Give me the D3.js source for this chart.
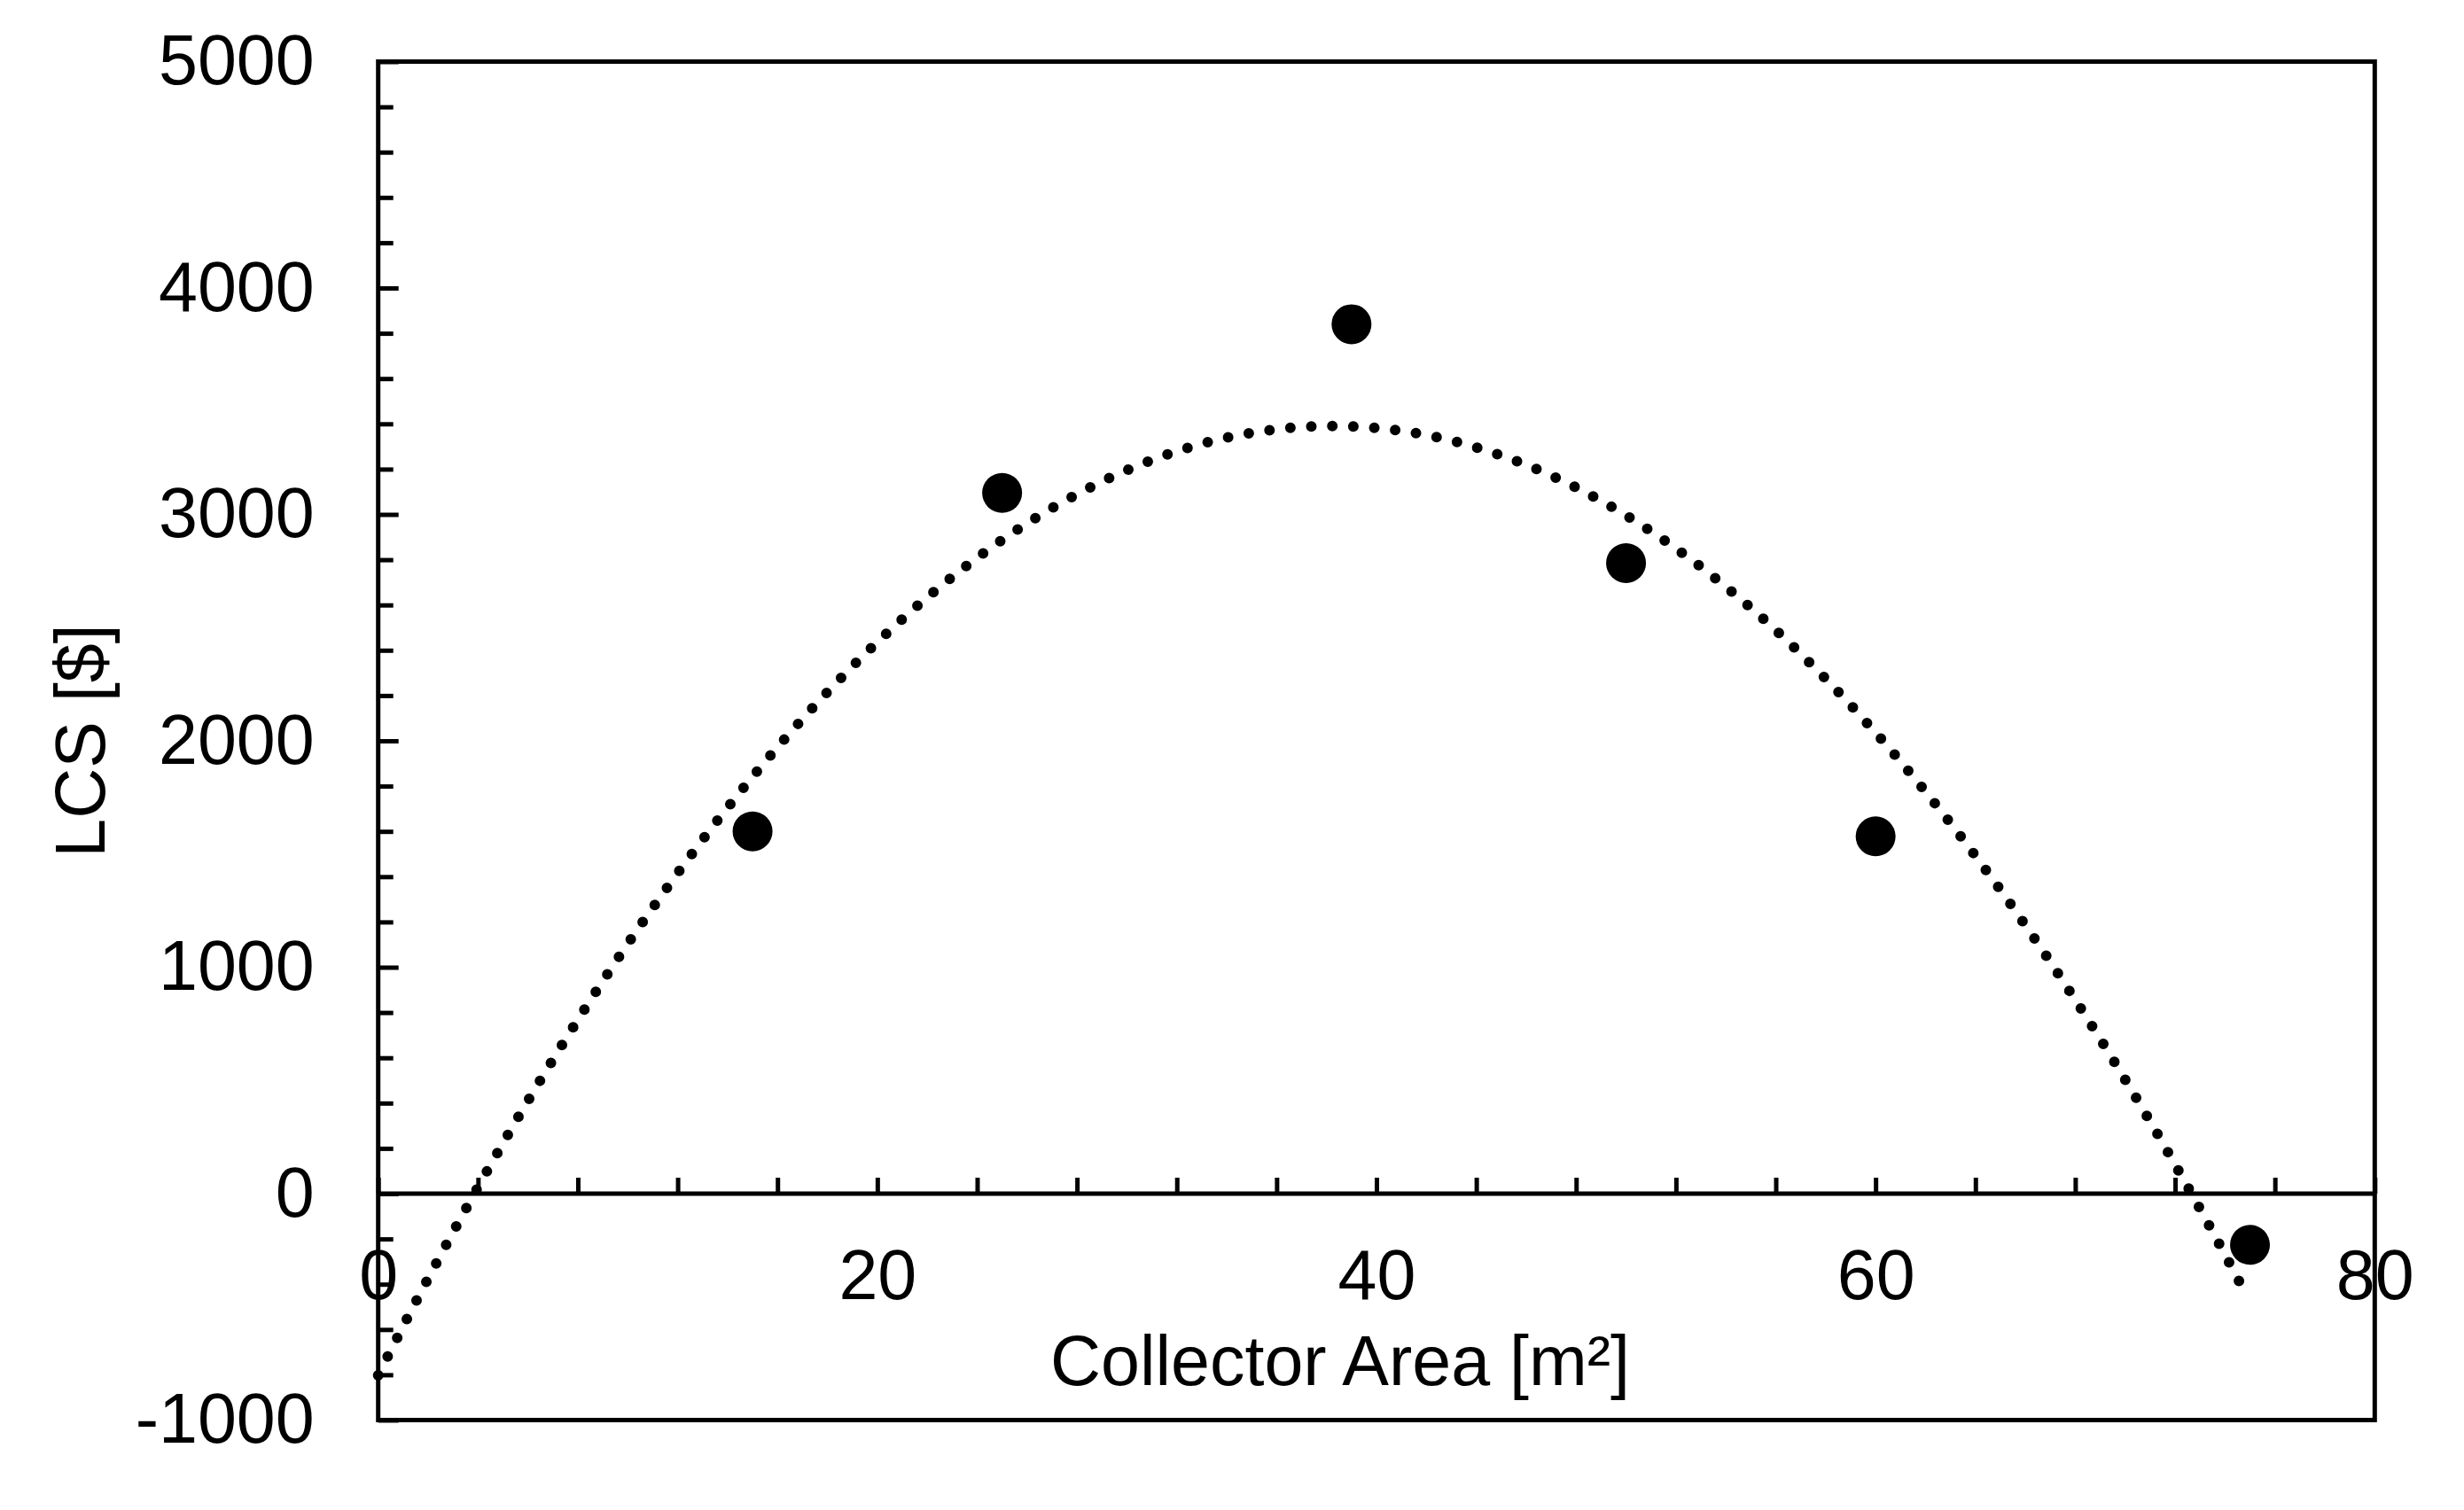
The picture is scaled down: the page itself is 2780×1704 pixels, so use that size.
<!DOCTYPE html>
<html>
<head>
<meta charset="utf-8">
<script src="https://cdn.jsdelivr.net/npm/d3@7"></script>
<style>
  html, body { margin: 0; padding: 0; background: #fff; }
  svg { display: block; }
  text { font-family: "Liberation Sans", Arial, sans-serif; fill: #000; }
</style>
</head>
<body>
<svg id="chart" width="2780" height="1704"></svg>
<script>
// ---- data ----
const areas = [15, 25, 39, 50, 60, 75];
const lcs = [1600, 3095, 3840, 2785, 1578, -226];
const xTickLabels = [0, 20, 40, 60, 80];
const yTickLabels = [-1000, 0, 1000, 2000, 3000, 4000, 5000];
const xTitle = "Collector Area [m²]";
const yTitle = "LCS [$]";
const trendRange = [0, 74.8];

// ---- layout ----
const L = 426.7, R = 2679.3, T = 69.5, B = 1602.5;
const FS = 79;

const svg = d3.select("#chart");
const x = d3.scaleLinear().domain([0, 80]).range([L, R]);
const y = d3.scaleLinear().domain([-1000, 5000]).range([B, T]);
const plainFmt = d => String(d);

// ---- quadratic least-squares trendline (from data) ----
function polyfit2(xs, ys) {
  let S = [0,0,0,0,0], Ty = [0,0,0];
  for (let i = 0; i < xs.length; i++) {
    let p = 1;
    for (let k = 0; k < 5; k++) { S[k] += p; if (k < 3) Ty[k] += p * ys[i]; p *= xs[i]; }
  }
  const A = [[S[0],S[1],S[2],Ty[0]],[S[1],S[2],S[3],Ty[1]],[S[2],S[3],S[4],Ty[2]]];
  for (let i = 0; i < 3; i++) {
    for (let j = i + 1; j < 3; j++) {
      const f = A[j][i] / A[i][i];
      for (let k = i; k < 4; k++) A[j][k] -= f * A[i][k];
    }
  }
  const c = [0,0,0];
  for (let i = 2; i >= 0; i--) {
    let s = A[i][3];
    for (let k = i + 1; k < 3; k++) s -= A[i][k] * c[k];
    c[i] = s / A[i][i];
  }
  return c;
}
const coef = polyfit2(areas, lcs);
const trendX = d3.range(trendRange[0], trendRange[1] + 0.0001, 0.2);
const trendPts = trendX.map(v => [v, coef[0] + coef[1] * v + coef[2] * v * v]);

// ---- y ticks (inside, on left axis) ----
const yMinor = d3.range(-1000, 5001, 200);
const gYT = svg.append("g").attr("transform", `translate(${L},0)`)
  .call(d3.axisRight(y).tickValues(yMinor.filter(v => v % 1000 !== 0)).tickSize(17).tickFormat(""));
const gYT2 = svg.append("g").attr("transform", `translate(${L},0)`)
  .call(d3.axisRight(y).tickValues(yTickLabels).tickSize(23).tickFormat(""));
[gYT, gYT2].forEach(g => {
  g.select(".domain").remove();
  g.selectAll("line").attr("stroke", "#000").attr("stroke-width", 5);
});

// y labels
const gYL = svg.append("g").attr("transform", `translate(${L},0)`)
  .call(d3.axisLeft(y).tickValues(yTickLabels).tickSize(0).tickPadding(72).tickFormat(plainFmt));
gYL.select(".domain").remove();
gYL.selectAll("text").attr("font-size", FS).attr("font-family", "Liberation Sans, Arial, sans-serif").attr("fill", "#000");

// ---- x ticks on zero line (pointing up) ----
const gXT = svg.append("g").attr("transform", `translate(0,${y(0)})`)
  .call(d3.axisTop(x).tickValues(d3.range(0, 81, 4)).tickSize(18).tickFormat(""));
gXT.select(".domain").remove();
gXT.selectAll("line").attr("stroke", "#000").attr("stroke-width", 5);

// zero line
svg.append("line").attr("x1", L).attr("x2", R).attr("y1", y(0)).attr("y2", y(0))
  .attr("stroke", "#000").attr("stroke-width", 5);

// x labels
const gXL = svg.append("g").attr("transform", `translate(0,${y(0)})`)
  .call(d3.axisBottom(x).tickValues(xTickLabels).tickSize(0).tickPadding(63).tickFormat(plainFmt));
gXL.select(".domain").remove();
gXL.selectAll("text").attr("font-size", FS).attr("font-family", "Liberation Sans, Arial, sans-serif").attr("fill", "#000");

// ---- frame ----
svg.append("rect").attr("x", L).attr("y", T).attr("width", R - L).attr("height", B - T)
  .attr("fill", "none").attr("stroke", "#000").attr("stroke-width", 5);

// ---- trendline ----
svg.append("path")
  .datum(trendPts)
  .attr("d", d3.line().x(d => x(d[0])).y(d => y(d[1])))
  .attr("fill", "none").attr("stroke", "#000").attr("stroke-width", 12)
  .attr("stroke-linecap", "round").attr("stroke-dasharray", "0 23.7");

// ---- markers ----
svg.append("g").selectAll("circle")
  .data(areas.map((a, i) => [a, lcs[i]]))
  .join("circle")
  .attr("cx", d => x(d[0])).attr("cy", d => y(d[1])).attr("r", 22.5)
  .attr("fill", "#000");

// ---- titles ----
svg.append("text").attr("x", 1512).attr("y", 1563).attr("text-anchor", "middle")
  .attr("font-size", FS).text(xTitle);
svg.append("text").attr("transform", `translate(118,${(T + B) / 2}) rotate(-90)`)
  .attr("text-anchor", "middle").attr("font-size", FS).text(yTitle);
</script>
</body>
</html>
